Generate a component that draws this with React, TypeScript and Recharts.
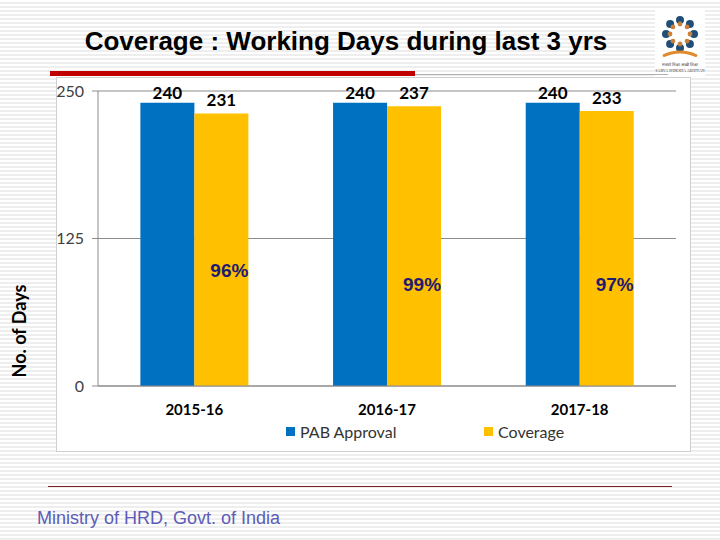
import { Bar, BarChart, CartesianGrid, LabelList, Legend, XAxis, YAxis } from 'recharts';

const years = ['2015-16', '2016-17', '2017-18'];
const pabApproval = [240, 240, 240];
const coverage = [231, 237, 233];
const coveragePct = ['96%', '99%', '97%'];
const yTicks = [0, 125, 250];

const data = years.map((year, i) => ({
  year,
  pab: pabApproval[i],
  coverage: coverage[i],
  pct: coveragePct[i],
}));

const BLUE = '#0070C0';
const YELLOW = '#FFC000';
const FONT = 'Lato, "Open Sans", sans-serif';
const ARIAL = '"Liberation Sans", Arial, sans-serif';

// the % text boxes sit a little unevenly in the slide
const pctShift = [-10, 4, 4];

function PctLabel(props: any) {
  const { x, y, width, height, value, index } = props;
  return (
    <text
      x={x + width / 2 + 8}
      y={y + height - 106 + (pctShift[index] || 0)}
      textAnchor="middle"
      dominantBaseline="central"
      fontFamily={ARIAL}
      fontWeight={700}
      fontSize={19}
      fill="#1f1a72"
    >
      {value}
    </text>
  );
}

function LegendBox(props: any) {
  const items = props.payload || [];
  const order = ['PAB Approval', 'Coverage'];
  const sorted = [...items].sort((a: any, b: any) => order.indexOf(a.value) - order.indexOf(b.value));
  return (
    <div style={{ position: 'relative', height: 24, fontFamily: FONT, fontSize: 16, color: '#333' }}>
      {sorted.map((it: any, i: number) => (
        <div
          key={it.value}
          style={{ position: 'absolute', left: i === 0 ? 228 : 426, top: 6, display: 'flex', alignItems: 'center' }}
        >
          <span style={{ width: 9, height: 9, background: it.color, display: 'inline-block', marginRight: 5 }} />
          <span>{it.value}</span>
        </div>
      ))}
    </div>
  );
}

function Logo() {
  const dots = Array.from({ length: 8 }, (_, i) => (i * Math.PI) / 4);
  return (
    <svg width={50} height={66} style={{ position: 'absolute', left: 655, top: 10, background: '#fff' }}>
      {dots.map((a, i) => (
        <g key={i}>
          <circle cx={25 + Math.cos(a) * 14} cy={24 + Math.sin(a) * 14} r={4} fill="#1f4e79" />
          <circle cx={25 + Math.cos(a) * 10} cy={24 + Math.sin(a) * 10} r={2.4} fill="#c8803a" />
        </g>
      ))}
      <path d="M8 46 Q25 38 42 46" stroke="#e08a2c" strokeWidth={3} fill="none" />
      <text x={25} y={56} fontSize={4} textAnchor="middle" fill="#333">सबको शिक्षा अच्छी शिक्षा</text>
      <text x={25} y={62} fontSize={4} textAnchor="middle" fill="#333">SARVA SHIKSHA ABHIYAN</text>
    </svg>
  );
}

export default function App() {
  return (
    <div
      style={{
        position: 'fixed',
        left: 0,
        top: 0,
        width: 720,
        height: 540,
        overflow: 'hidden',
        background: 'repeating-linear-gradient(to bottom, #ffffff 0px, #ffffff 2px, #eeeeee 2px, #eeeeee 4px)',
      }}
    >
      <div
        style={{
          position: 'absolute',
          left: 0,
          top: 25,
          width: 692,
          textAlign: 'center',
          fontFamily: ARIAL,
          fontWeight: 700,
          fontSize: 26,
          lineHeight: '32px',
          color: '#000',
        }}
      >
        Coverage : Working Days during last 3 yrs
      </div>
      <Logo />
      <div style={{ position: 'absolute', left: 50, top: 71, width: 365, height: 5, background: '#C00000' }} />
      <div style={{ position: 'absolute', left: 415, top: 74, width: 253, height: 1, background: '#b0b0b0' }} />

      <div
        style={{
          position: 'absolute',
          left: 56,
          top: 77,
          width: 633,
          height: 373,
          background: '#fff',
          border: '1px solid #d0d0d0',
        }}
      />

      <div style={{ position: 'absolute', left: 0, top: 0 }}>
        <BarChart
          width={720}
          height={540}
          data={data}
          margin={{ top: 91, right: 44, left: 58, bottom: 100 }}
          barCategoryGap="22%"
          barGap={0}
        >
          <CartesianGrid vertical={false} stroke="#8c8c8c" />
          <XAxis
            dataKey="year"
            height={30}
            tickLine={false}
            axisLine={{ stroke: '#8c8c8c' }}
            tickMargin={12}
            tick={{ fill: '#000', fontSize: 15, fontWeight: 700, fontFamily: FONT }}
          />
          <YAxis
            width={40}
            domain={[0, 250]}
            ticks={yTicks}
            axisLine={{ stroke: '#8c8c8c' }}
            tickLine={{ stroke: '#8c8c8c' }}
            tickMargin={8}
            tick={{ fill: '#404040', fontSize: 16, fontFamily: FONT }}
          />
          <Legend verticalAlign="bottom" content={<LegendBox />} />
          <Bar dataKey="pab" name="PAB Approval" fill={BLUE} isAnimationActive={false}>
            <LabelList
              dataKey="pab"
              position="top"
              offset={4}
              fill="#000"
              fontSize={17}
              fontWeight={700}
              fontFamily={FONT}
            />
          </Bar>
          <Bar dataKey="coverage" name="Coverage" fill={YELLOW} isAnimationActive={false}>
            <LabelList
              dataKey="coverage"
              position="top"
              offset={7}
              fill="#000"
              fontSize={17}
              fontWeight={700}
              fontFamily={FONT}
            />
            <LabelList dataKey="pct" content={<PctLabel />} />
          </Bar>
        </BarChart>
      </div>

      <div
        style={{
          position: 'absolute',
          left: 19,
          top: 331,
          transform: 'translate(-50%, -50%) rotate(-90deg)',
          fontFamily: FONT,
          fontWeight: 700,
          fontSize: 18,
          whiteSpace: 'nowrap',
          color: '#000',
        }}
      >
        No. of Days
      </div>

      <div style={{ position: 'absolute', left: 48, top: 486, width: 624, height: 1, background: '#7a2020' }} />
      <div
        style={{
          position: 'absolute',
          left: 37,
          top: 508,
          fontFamily: ARIAL,
          fontSize: 18,
          color: '#5C5CB8',
        }}
      >
        Ministry of HRD, Govt. of India
      </div>
    </div>
  );
}
